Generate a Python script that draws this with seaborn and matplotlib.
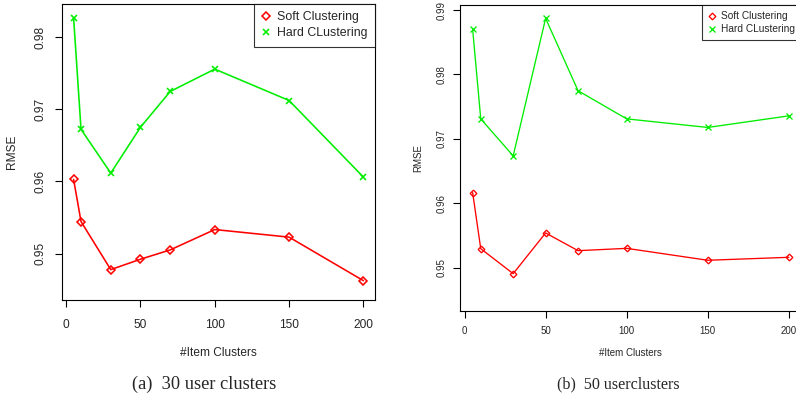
import matplotlib
matplotlib.use("Agg")
import matplotlib.pyplot as plt
from matplotlib.lines import Line2D
import seaborn as sns

# Number of item clusters evaluated
item_clusters = [5, 10, 30, 50, 70, 100, 150, 200]

# RMSE with 30 user clusters
soft_30 = [0.96028, 0.95444, 0.94778, 0.94922, 0.95051, 0.95333, 0.95228, 0.94625]
hard_30 = [0.98268, 0.96722, 0.96115, 0.96750, 0.97246, 0.97556, 0.97121, 0.96060]

# RMSE with 50 user clusters
soft_50 = [0.96165, 0.95295, 0.94907, 0.95539, 0.95264, 0.95300, 0.95115, 0.95161]
hard_50 = [0.98700, 0.97310, 0.96736, 0.98871, 0.97747, 0.97310, 0.97177, 0.97357]

x_ticks = [0, 50, 100, 150, 200]
y_ticks_a = [0.95, 0.96, 0.97, 0.98]
y_ticks_b = [0.95, 0.96, 0.97, 0.98, 0.99]

series_names = ["Soft Clustering", "Hard CLustering"]
captions = ["(a)  30 user clusters", "(b)  50 userclusters"]

RED = "#FF0000"
GREEN = "#00EE00"

sns.set_style("ticks")
plt.rcParams["font.family"] = ["Liberation Sans", "DejaVu Sans"]

W, H = 796, 397
fig = plt.figure(figsize=(W / 100, H / 100), dpi=100)


def frac_rect(left, top, right, bottom):
    return [left / W, 1 - bottom / H, (right - left) / W, (bottom - top) / H]


def draw_panel(rect, soft, hard, yticks, ylim, fs, lw, dsize, xsize, xpad, ypad,
               caption, caption_x, caption_y, xlabel_y, ylabel_x):
    ax = fig.add_axes(rect)
    sns.lineplot(x=item_clusters, y=soft, ax=ax, color=RED, linewidth=lw,
                 marker="D", markersize=dsize, markerfacecolor="none",
                 markeredgecolor=RED, markeredgewidth=lw, errorbar=None)
    sns.lineplot(x=item_clusters, y=hard, ax=ax, color=GREEN, linewidth=lw,
                 marker="x", markersize=xsize, markeredgecolor=GREEN,
                 markeredgewidth=lw, errorbar=None)
    ax.set_xlim(-2.8, 207.8)
    ax.set_ylim(*ylim)
    ax.set_xticks(x_ticks)
    ax.set_xticklabels([str(t) for t in x_ticks])
    ax.set_yticks(yticks)
    ax.set_yticklabels([f"{t:.2f}" for t in yticks])
    ax.tick_params(axis="both", direction="out", length=5, width=0.8,
                   labelsize=fs, color="black")
    ax.tick_params(axis="x", pad=xpad)
    ax.tick_params(axis="y", pad=ypad)
    for lab in ax.get_yticklabels():
        lab.set_rotation(90)
        lab.set_va("center")
    for s in ax.spines.values():
        s.set_visible(True)
        s.set_linewidth(0.8)
        s.set_color("black")
    ax.set_xlabel("")
    ax.set_ylabel("")
    ax.grid(False)

    handles = [
        Line2D([], [], linestyle="none", marker="D", markersize=dsize,
               markerfacecolor="none", markeredgecolor=RED, markeredgewidth=lw),
        Line2D([], [], linestyle="none", marker="x", markersize=xsize,
               markeredgecolor=GREEN, markeredgewidth=lw),
    ]
    leg = ax.legend(handles, series_names, loc="upper right", fontsize=fs + 0.3,
                    frameon=True, fancybox=False, borderaxespad=0,
                    handlelength=0.8, handletextpad=0.5, labelspacing=0.3,
                    borderpad=0.6)
    leg.get_frame().set_edgecolor("black")
    leg.get_frame().set_linewidth(0.8)

    fig.text(rect[0] + rect[2] / 2, 1 - xlabel_y / H, "#Item Clusters",
             ha="center", va="center", fontsize=fs)
    fig.text(ylabel_x / W, rect[1] + rect[3] / 2, "RMSE", rotation=90,
             ha="center", va="center", fontsize=fs)
    fig.text(caption_x / W, 1 - caption_y / H, caption, ha="center",
             va="center", fontsize=fs + 4.6, family="Liberation Serif")
    return ax


draw_panel(frac_rect(62, 4, 375, 300), soft_30, hard_30, y_ticks_a,
           (0.94357, 0.98458), 8.6, 1.15, 4.3, 5.0, 8.5, 6.0,
           captions[0], 204.5, 384, 353, 12)

draw_panel(frac_rect(460, 5, 801.5, 310.7), soft_50, hard_50, y_ticks_b,
           (0.94332, 0.99078), 7.0, 0.95, 3.4, 4.0, 6.0, 4.5,
           captions[1], 618.5, 384, 353, 418)

fig.savefig("out.png", dpi=100)
